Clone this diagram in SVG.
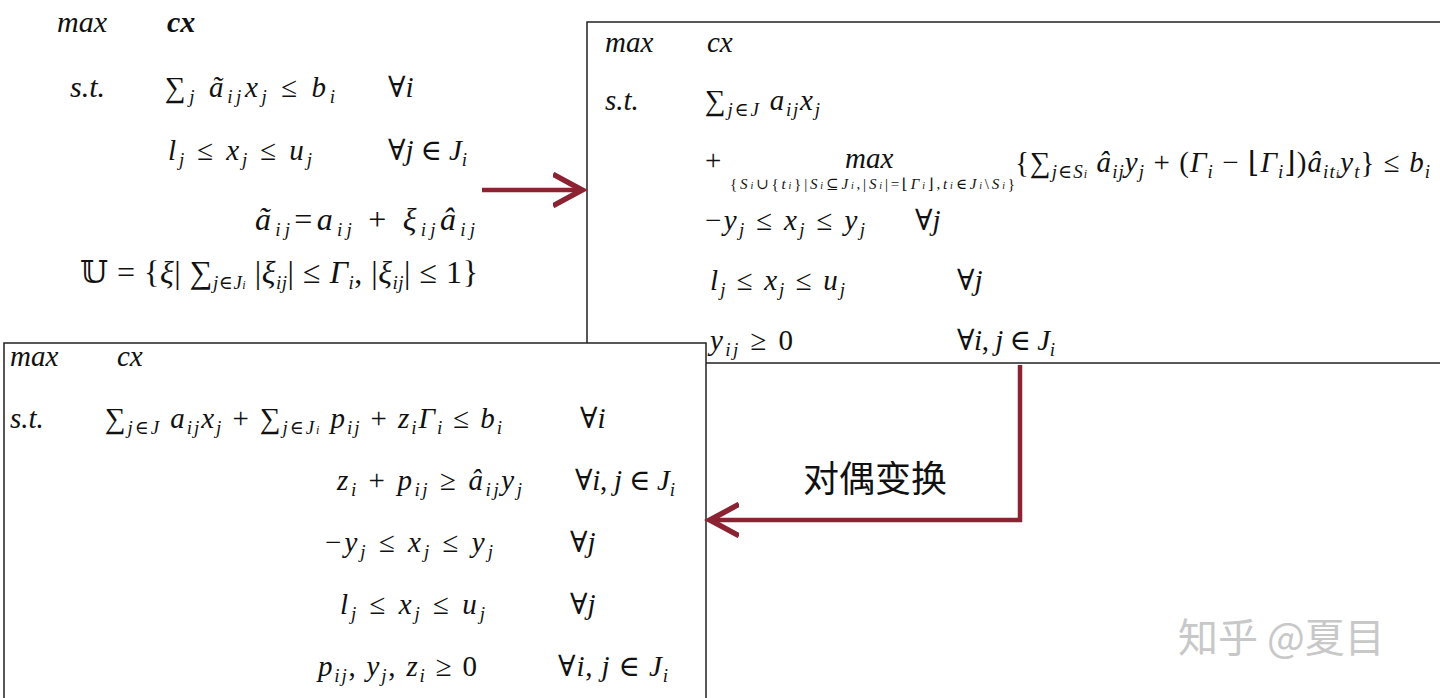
<svg xmlns="http://www.w3.org/2000/svg" width="1440" height="698" viewBox="0 0 1440 698">
<style>
text{font-family:"Liberation Serif","DejaVu Serif",serif;font-style:italic;font-size:29px;fill:#111}
.s{font-size:19px;baseline-shift:-6px}
.u{font-style:normal}
.b{font-weight:bold}
.w{font-size:30px}
.small{font-size:15px}
.cn{font-family:"Noto Sans CJK SC",sans-serif;font-style:normal;font-size:36px}
.wm{font-family:"Noto Sans CJK SC",sans-serif;font-style:normal;font-size:40px;fill:#c8c8c8}
.box{fill:#fff;stroke:#222;stroke-width:1.5}
.arr{fill:none;stroke:#8B2332;stroke-width:4.5}
</style>
<defs>
<marker id="ah" markerWidth="8" markerHeight="8" refX="6" refY="4" orient="auto" markerUnits="strokeWidth">
<path d="M0,0.5 L6.5,4 L0,7.5" fill="none" stroke="#8B2332" stroke-width="1.2"/>
</marker>
</defs>
<g id="node-original">
<text x="57" y="32" class="w">max</text><text x="167" y="32" class="b w">cx</text>
<text x="70" y="97" class="w">s.t.</text>
<text x="165" y="97" textLength="170" lengthAdjust="spacing"><tspan class="u">∑</tspan><tspan class="s">j</tspan> ã<tspan class="s">ij</tspan>x<tspan class="s">j</tspan><tspan class="u"> ≤ </tspan>b<tspan class="s">i</tspan></text>
<text x="388" y="97"><tspan class="u">∀</tspan>i</text>
<text x="168" y="160" textLength="144" lengthAdjust="spacing">l<tspan class="s">j</tspan><tspan class="u"> ≤ </tspan>x<tspan class="s">j</tspan><tspan class="u"> ≤ </tspan>u<tspan class="s">j</tspan></text>
<text x="388" y="160" textLength="79" lengthAdjust="spacing"><tspan class="u">∀</tspan>j<tspan class="u"> ∈ </tspan>J<tspan class="s">i</tspan></text>
<text x="255" y="230" style="font-size:32px" textLength="220" lengthAdjust="spacing">ã<tspan class="s">ij</tspan><tspan class="u">=</tspan>a<tspan class="s">ij</tspan><tspan class="u"> + </tspan>ξ<tspan class="s">ij</tspan>â<tspan class="s">ij</tspan></text>
<text x="80" y="283" style="font-size:32px" textLength="398" lengthAdjust="spacing"><tspan class="u">𝕌 = {</tspan>ξ<tspan class="u">| ∑</tspan><tspan class="s">j∈J<tspan style="font-size:12px">i</tspan></tspan><tspan class="u"> |</tspan>ξ<tspan class="s">ij</tspan><tspan class="u">| ≤ </tspan>Γ<tspan class="s">i</tspan><tspan class="u">, |</tspan>ξ<tspan class="s">ij</tspan><tspan class="u">| ≤ 1}</tspan></text>
</g>
<g id="node-robust">
<rect class="box" x="587" y="22" width="860" height="341"/>
<text x="605" y="52">max</text><text x="707" y="52">cx</text>
<text x="605" y="110">s.t.</text>
<text x="705" y="110" textLength="115" lengthAdjust="spacing"><tspan class="u">∑</tspan><tspan class="s">j∈J</tspan> a<tspan class="s">ij</tspan>x<tspan class="s">j</tspan></text>
<text x="705" y="170" class="u">+</text>
<text x="845" y="168">max</text>
<text x="730" y="189" class="small" textLength="285" lengthAdjust="spacing"><tspan class="u">{</tspan>S<tspan style="font-size:10px">i</tspan><tspan class="u">∪{</tspan>t<tspan style="font-size:10px">i</tspan><tspan class="u">}|</tspan>S<tspan style="font-size:10px">i</tspan><tspan class="u">⊆</tspan>J<tspan style="font-size:10px">i</tspan><tspan class="u">,|</tspan>S<tspan style="font-size:10px">i</tspan><tspan class="u">|=⌊</tspan>Γ<tspan style="font-size:10px">i</tspan><tspan class="u">⌋,</tspan>t<tspan style="font-size:10px">i</tspan><tspan class="u">∈</tspan>J<tspan style="font-size:10px">i</tspan><tspan class="u">\</tspan>S<tspan style="font-size:10px">i</tspan><tspan class="u">}</tspan></text>
<text x="1015" y="172" textLength="415" lengthAdjust="spacing"><tspan class="u">{∑</tspan><tspan class="s">j∈S<tspan style="font-size:12px">i</tspan></tspan> â<tspan class="s">ij</tspan>y<tspan class="s">j</tspan><tspan class="u"> + (</tspan>Γ<tspan class="s">i</tspan><tspan class="u"> − ⌊</tspan>Γ<tspan class="s">i</tspan><tspan class="u">⌋)</tspan>â<tspan class="s">it<tspan style="font-size:12px">i</tspan></tspan>y<tspan class="s">t</tspan><tspan class="u">} ≤ </tspan>b<tspan class="s">i</tspan></text>
<text x="705" y="230" textLength="160" lengthAdjust="spacing"><tspan class="u">−</tspan>y<tspan class="s">j</tspan><tspan class="u"> ≤ </tspan>x<tspan class="s">j</tspan><tspan class="u"> ≤ </tspan>y<tspan class="s">j</tspan></text>
<text x="915" y="230"><tspan class="u">∀</tspan>j</text>
<text x="710" y="290" textLength="135" lengthAdjust="spacing">l<tspan class="s">j</tspan><tspan class="u"> ≤ </tspan>x<tspan class="s">j</tspan><tspan class="u"> ≤ </tspan>u<tspan class="s">j</tspan></text>
<text x="957" y="290"><tspan class="u">∀</tspan>j</text>
<text x="710" y="350" textLength="83" lengthAdjust="spacing">y<tspan class="s">ij</tspan><tspan class="u"> ≥ 0</tspan></text>
<text x="957" y="350" textLength="98" lengthAdjust="spacing"><tspan class="u">∀</tspan>i<tspan class="u">, </tspan>j<tspan class="u"> ∈ </tspan>J<tspan class="s">i</tspan></text>
</g>
<g id="node-dual">
<rect class="box" x="4" y="343" width="702" height="360"/>
<text x="10" y="366">max</text><text x="117" y="366">cx</text>
<text x="10" y="428">s.t.</text>
<text x="105" y="428" textLength="397" lengthAdjust="spacing"><tspan class="u">∑</tspan><tspan class="s">j∈J</tspan> a<tspan class="s">ij</tspan>x<tspan class="s">j</tspan><tspan class="u"> + ∑</tspan><tspan class="s">j∈J<tspan style="font-size:12px">i</tspan></tspan> p<tspan class="s">ij</tspan><tspan class="u"> + </tspan>z<tspan class="s">i</tspan>Γ<tspan class="s">i</tspan><tspan class="u"> ≤ </tspan>b<tspan class="s">i</tspan></text>
<text x="580" y="428"><tspan class="u">∀</tspan>i</text>
<text x="337" y="490" textLength="185" lengthAdjust="spacing">z<tspan class="s">i</tspan><tspan class="u"> + </tspan>p<tspan class="s">ij</tspan><tspan class="u"> ≥ </tspan>â<tspan class="s">ij</tspan>y<tspan class="s">j</tspan></text>
<text x="575" y="490" textLength="100" lengthAdjust="spacing"><tspan class="u">∀</tspan>i<tspan class="u">, </tspan>j<tspan class="u"> ∈ </tspan>J<tspan class="s">i</tspan></text>
<text x="325" y="552" textLength="168" lengthAdjust="spacing"><tspan class="u">−</tspan>y<tspan class="s">j</tspan><tspan class="u"> ≤ </tspan>x<tspan class="s">j</tspan><tspan class="u"> ≤ </tspan>y<tspan class="s">j</tspan></text>
<text x="570" y="552"><tspan class="u">∀</tspan>j</text>
<text x="340" y="614" textLength="145" lengthAdjust="spacing">l<tspan class="s">j</tspan><tspan class="u"> ≤ </tspan>x<tspan class="s">j</tspan><tspan class="u"> ≤ </tspan>u<tspan class="s">j</tspan></text>
<text x="570" y="614"><tspan class="u">∀</tspan>j</text>
<text x="318" y="676" textLength="159" lengthAdjust="spacing">p<tspan class="s">ij</tspan><tspan class="u">, </tspan>y<tspan class="s">j</tspan><tspan class="u">, </tspan>z<tspan class="s">i</tspan><tspan class="u"> ≥ 0</tspan></text>
<text x="558" y="676" textLength="110" lengthAdjust="spacing"><tspan class="u">∀</tspan>i<tspan class="u">, </tspan>j<tspan class="u"> ∈ </tspan>J<tspan class="s">i</tspan></text>
</g>
<g id="connectors">
<path class="arr" d="M482,190 L580,190" marker-end="url(#ah)"/>
<path class="arr" d="M1020,365 L1020,520 L712,520" marker-end="url(#ah)"/>
<text x="803" y="492" class="cn">对偶变换</text>
</g>
<text x="1178" y="652" class="wm">知乎 @夏目</text>
</svg>
